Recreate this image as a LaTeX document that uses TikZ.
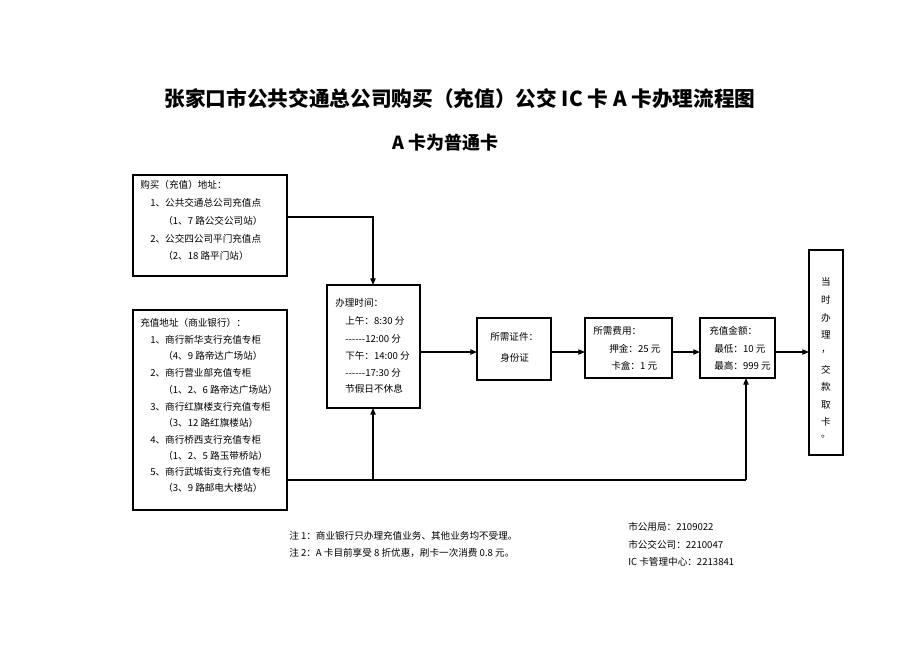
\documentclass[tikz,border=0pt]{standalone}
\usepackage{fontspec}
\setmainfont{Noto Sans CJK SC}
\usetikzlibrary{arrows.meta}
\newcommand{\dsh}{-{}-{}-{}-{}-{}-}
\begin{document}
\begin{tikzpicture}[x=0.75pt,y=-0.75pt,
  box/.style={draw,line width=0.8pt},
  t/.style={anchor=west,inner sep=0pt,font=\fontsize{7.2}{7.5}\selectfont},
  arr/.style={line width=0.8pt,-{Triangle[length=5pt,width=4pt]}},
  ln/.style={line width=0.8pt}]
\useasboundingbox (0,0) rectangle (920,651);
\node[font=\fontsize{15.5}{17}\selectfont\bfseries] (title) at (460,99) {张家口市公共交通总公司购买（充值）公交 IC 卡 A 卡办理流程图};
\node[font=\fontsize{13.5}{15}\selectfont\bfseries] (sub) at (445,143) {A 卡为普通卡};
% boxes
\draw[box] (133,175) rectangle (287,276);
\coordinate (b1r) at (287,217);
\draw[box] (133,310) rectangle (287,510);
\coordinate (b2r) at (287,480);
\draw[box] (327,285) rectangle (420,408);
\coordinate (tt) at (373,285); \coordinate (tb) at (373,408);
\coordinate (tr) at (420,352);
\draw[box] (477,318) rectangle (551,380);
\coordinate (zl) at (477,352); \coordinate (zr) at (551,352);
\draw[box] (585,318) rectangle (672,378);
\coordinate (fl) at (585,352); \coordinate (fr) at (672,352);
\draw[box] (700,318) rectangle (775,378);
\coordinate (jl) at (700,352); \coordinate (jr) at (775,352); \coordinate (jb) at (746,378);
\draw[box] (809,250) rectangle (843,455);
\coordinate (rl) at (809,352);
% connectors
\draw[arr] (b1r) -| (tt);
\draw[ln] (b2r) -- (746,480);
\draw[arr] (373,480) -- (tb);
\draw[arr] (746,480) -- (jb);
\draw[arr] (tr) -- (zl);
\draw[arr] (zr) -- (fl);
\draw[arr] (fr) -- (jl);
\draw[arr] (jr) -- (rl);
% box1 text
\node[t] at (140,185) {购买（充值）地址：};
\node[t] at (150,203) {1、公共交通总公司充值点};
\node[t] at (163,221) {（1、7 路公交公司站）};
\node[t] at (150,239) {2、公交四公司平门充值点};
\node[t] at (163,256) {（2、18 路平门站）};
% box2 text
\node[t] at (140,323) {充值地址（商业银行）：};
\node[t] at (150,340) {1、商行新华支行充值专柜};
\node[t] at (163,356) {（4、9 路帝达广场站）};
\node[t] at (150,373) {2、商行营业部充值专柜};
\node[t] at (163,390) {（1、2、6 路帝达广场站）};
\node[t] at (150,407) {3、商行红旗楼支行充值专柜};
\node[t] at (163,423) {（3、12 路红旗楼站）};
\node[t] at (150,440) {4、商行桥西支行充值专柜};
\node[t] at (163,456) {（1、2、5 路玉带桥站）};
\node[t] at (150,472) {5、商行武城街支行充值专柜};
\node[t] at (163,488) {（3、9 路邮电大楼站）};
% time box
\node[t] at (335,303) {办理时间：};
\node[t] at (345,321) {上午：8:30 分};
\node[t] at (345,339) {\dsh12:00 分};
\node[t] at (345,356) {下午：14:00 分};
\node[t] at (345,373) {\dsh17:30 分};
\node[t] at (345,389) {节假日不休息};
% others
\node[t] at (490,337) {所需证件：};
\node[t] at (500,358) {身份证};
\node[t] at (593,331) {所需费用：};
\node[t] at (609,349) {押金：25 元};
\node[t] at (611,366) {卡盒：1 元};
\node[t] at (709,331) {充值金额：};
\node[t] at (714,349) {最低：10 元};
\node[t] at (714,366) {最高：999 元};
\foreach \c/\y in {当/282,时/300,办/318,理/335,，/352,交/370,款/387,取/405,卡/422,。/437}
  \node[inner sep=0pt,font=\fontsize{7.2}{7.5}\selectfont] at (826,\y) {\c};
% notes
\node[t] at (289,536) {注 1：商业银行只办理充值业务、其他业务均不受理。};
\node[t] at (289,553) {注 2：A 卡目前享受 8 折优惠，刷卡一次消费 0.8 元。};
\node[t] at (628,527) {市公用局：2109022};
\node[t] at (628,545) {市公交公司：2210047};
\node[t] at (628,562) {IC 卡管理中心：2213841};
\end{tikzpicture}
\end{document}
